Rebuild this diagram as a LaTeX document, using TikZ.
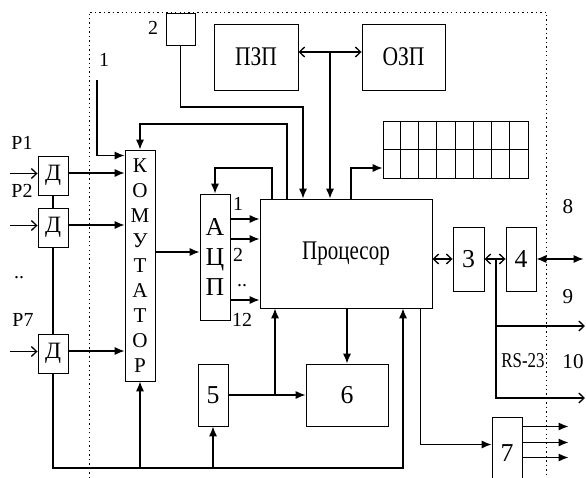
\documentclass[tikz,border=0pt]{standalone}
\usepackage{fontspec}
\setmainfont{Liberation Serif}
\usetikzlibrary{arrows.meta,calc}

\tikzset{
  blk/.style={draw, line width=0.8pt, inner sep=0pt, font=\fontsize{22}{22}\selectfont},
  ln/.style={line width=1.1pt},
  arr/.style={line width=1.1pt, -{Latex[length=8.5pt,width=7pt]}},
  oarr/.style={line width=1.1pt, -{Straight Barb[length=4.5pt,width=8.5pt]}},
  barr/.style={line width=1.1pt, {Straight Barb[length=4.5pt,width=8.5pt]}-{Straight Barb[length=4.5pt,width=8.5pt]}},
  frame/.style={line width=0.7pt, dash pattern=on 1.2pt off 2.6pt},
  lbl/.style={inner sep=0pt, font=\fontsize{17}{17}\selectfont},
}

\begin{document}
\begin{tikzpicture}[x=0.03cm, y=-0.03cm]
\useasboundingbox (0,0) rectangle (586,478);
\clip (0,0) rectangle (586,478);

% dotted border of the unit
\draw[frame] (89,478) -- (89,12) -- (546,12) -- (546,478);

% sensors
\node[blk, minimum width=0.9cm, minimum height=1.17cm, font=\fontsize{20}{20}\selectfont] (d1) at (53,175.5) {Д};
\node[blk, minimum width=0.9cm, minimum height=1.17cm, font=\fontsize{20}{20}\selectfont] (d2) at (53,227.5) {Д};
\node[blk, minimum width=0.9cm, minimum height=1.17cm, font=\fontsize{20}{20}\selectfont] (d7) at (53,353.5) {Д};

% switch and ADC
\node[blk, minimum width=0.9cm, minimum height=6.93cm, align=center, font=\fontsize{18}{21.3}\selectfont] (kom) at (140,265.5) {К\\О\\М\\У\\Т\\А\\Т\\О\\Р};
\node[blk, minimum width=0.9cm, minimum height=3.78cm, align=center, font=\fontsize{22}{25.5}\selectfont] (adc) at (215,257) {А\\Ц\\П};

% processor and memory
\node[blk, minimum width=5.16cm, minimum height=3.27cm] (proc) at (346,253.5) {\scalebox{0.78}[1]{\fontsize{23}{23}\selectfont Процесор}};
\node[blk, minimum width=2.52cm, minimum height=1.98cm] (pzp) at (256,57) {\scalebox{0.8}[1]{\fontsize{23}{23}\selectfont ПЗП}};
\node[blk, minimum width=2.49cm, minimum height=1.98cm] (ozp) at (403.5,57) {\scalebox{0.8}[1]{\fontsize{23}{23}\selectfont ОЗП}};
\node[blk, minimum width=0.87cm, minimum height=0.96cm] (b2) at (180.5,29) {};

% display
\node[blk, minimum width=4.35cm, minimum height=1.71cm] (disp) at (455.5,149.5) {};
\foreach \i in {1,...,7}
  \draw[line width=0.8pt] ($(disp.north west)+(\i*18.125,0)$) -- ($(disp.south west)+(\i*18.125,0)$);
\draw[line width=0.8pt] (disp.west) -- (disp.east);

% numbered blocks
\node[blk, minimum width=0.93cm, minimum height=1.92cm] (b3) at (468.5,259) {3};
\node[blk, minimum width=0.9cm, minimum height=1.92cm] (b4) at (521,259) {4};
\node[blk, minimum width=0.9cm, minimum height=1.86cm] (b5) at (213,395) {5};
\node[blk, minimum width=2.46cm, minimum height=1.86cm] (b6) at (347,395) {6};
\node[blk, minimum width=0.9cm, minimum height=2.19cm] (b7) at (507,453.5) {7};

% labels
\node[lbl] (l2) at (153,28) {2};
\node[lbl] (l1) at (104,60) {1};
\node[lbl] (lp1) at (22,143) {P1};
\node[lbl] (lp2) at (22,191) {P2};
\node[lbl] (lpd) at (19,278) {..};
\node[lbl] (lp7) at (23,320) {P7};
\node[lbl] (a1) at (238,204) {1};
\node[lbl] (a2) at (238,255) {2};
\node[lbl] (ad) at (242,286) {..};
\node[lbl] (a12) at (242,320) {12};
\node[lbl, font=\fontsize{18}{18}\selectfont] (l8) at (568,207) {8};
\node[lbl, font=\fontsize{18}{18}\selectfont] (l9) at (568,297) {9};
\node[lbl, font=\fontsize{18}{18}\selectfont] (l10) at (573,362) {10};
\node[lbl, font=\fontsize{18}{18}\selectfont] (lrs) at (523,361) {\scalebox{0.8}[1]{RS-23}};

% inputs P1..P7
\foreach \d in {d1,d2,d7} {
  \draw[oarr] ($(\d.west)+(-28,-2)$) -- ($(\d.west)+(0,-2)$);
  \draw[arr] ($(\d.east)+(0,-2.5)$) coordinate (t) -- (t -| kom.west);
}
\draw[ln] (d1.south) -- (d2.north);
\draw[ln] (d2.south) -- (d7.north);

% common bus at the bottom
\coordinate (busR) at (403,468);
\draw[arr] (d7.south) |- (busR) -- (busR |- proc.south);
\draw[arr] (kom.south |- busR) -- (kom.south);
\draw[arr] (b5.south |- busR) -- (b5.south);

% input 1
\coordinate (in1) at (97,80);
\draw[arr] (in1) |- ($(kom.north west)+(0,6)$);

% switch -> ADC -> processor
\draw[arr] ($(adc.west)+(0,-5)$) coordinate (t) (t -| kom.east) -- (t);
\foreach \dy in {-38,-18,43}
  \draw[arr] ($(adc.east)+(0,\dy)$) coordinate (t) -- (t -| proc.west);

% processor top
\coordinate (c2) at (303,107);
\draw[arr] (b2.south) |- (c2) -- (c2 |- proc.north);
\draw[barr] ($(pzp.east)+(0,-5)$) -- ($(ozp.west)+(0,-5)$);
\coordinate (bus1) at (330,52);
\draw[arr] (bus1) -- (bus1 |- proc.north);
\coordinate (c6) at (351,168);
\draw[arr] (c6 |- proc.north) -- (c6) -- (c6 -| disp.west);
\coordinate (c8) at (287,124);
\draw[arr] (c8 |- proc.north) -- (c8) -| (kom.north);
\coordinate (c9) at (272,168);
\draw[arr] (c9 |- proc.north) -- (c9) -| (adc.north);

% processor bottom
\draw[arr] (b5.east) -- (b6.west);
\coordinate (j5) at (275,395);
\draw[arr] (j5) -- (j5 |- proc.south);
\draw[arr] (b6.north |- proc.south) -- (b6.north);
\draw[arr] ($(proc.south east)+(-12,0)$) |- ($(b7.west)+(0,-9)$);
\foreach \dy in {-27,-11,4}
  \draw[arr] ($(b7.east)+(0,\dy)$) -- ++(46,0);

% interfaces
\draw[barr] (b3.west -| proc.east) -- (b3.west);
\draw[barr] (b3.east) -- (b4.west);
\draw[line width=1.1pt, {Latex[length=8.5pt,width=7pt]}-{Latex[length=8.5pt,width=7pt]}] (b4.east) -- ++(47,0);
\coordinate (rs) at (496,259);
\draw[oarr] (rs) |- (585,326);
\draw[oarr] (rs) |- (585,398);
\end{tikzpicture}
\end{document}
